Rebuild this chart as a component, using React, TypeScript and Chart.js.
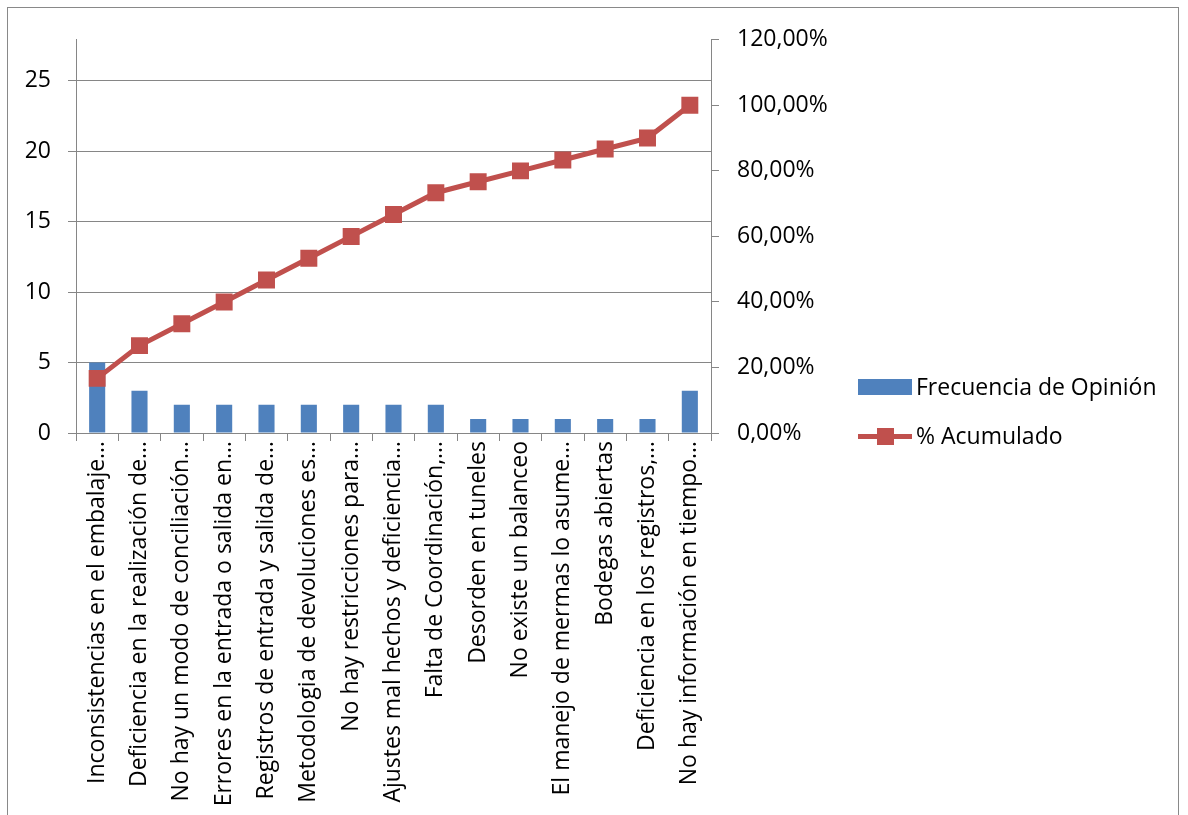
import React, { useEffect, useRef } from "react";
import { Chart, registerables } from "chart.js";

Chart.register(...registerables);

const categories: string[] = [
  "Inconsistencias en el embalaje…",
  "Deficiencia en la realización de…",
  "No hay un modo de conciliación…",
  "Errores en la entrada o salida en…",
  "Registros de entrada y salida de…",
  "Metodologia de devoluciones es…",
  "No hay restricciones para…",
  "Ajustes mal hechos y deficiencia…",
  "Falta de Coordinación,…",
  "Desorden en tuneles",
  "No existe un balanceo",
  "El manejo de mermas lo asume…",
  "Bodegas abiertas",
  "Deficiencia en los registros,…",
  "No hay información en tiempo…",
];

const frecuencia: number[] = [5, 3, 2, 2, 2, 2, 2, 2, 2, 1, 1, 1, 1, 1, 3];
const acumulado: number[] = [
  0.1667, 0.2667, 0.3333, 0.4, 0.4667, 0.5333, 0.6, 0.6667, 0.7333, 0.7667,
  0.8, 0.8333, 0.8667, 0.9, 1.0,
];

const seriesNames: string[] = ["Frecuencia de Opinión", "% Acumulado"];
const leftTicks: number[] = [0, 5, 10, 15, 20, 25];

const FONT = "'Open Sans'";
const FS_X = 23;
const FS_Y = 23;
const FS_L = 23;
const BAR = "#4F81BD";
const LINE = "#C0504D";
const GRID = "#868686";

export default function App() {
  const ref = useRef<HTMLCanvasElement | null>(null);

  useEffect(() => {
    if (!ref.current) return;
    const chart = new Chart(ref.current, {
      type: "bar",
      data: {
        labels: categories,
        datasets: [
          {
            type: "line",
            label: seriesNames[1],
            data: acumulado,
            yAxisID: "y1",
            borderColor: LINE,
            backgroundColor: LINE,
            borderWidth: 5,
            pointStyle: "rect",
            pointRadius: 12,
            pointBorderWidth: 0,
            tension: 0,
            order: 0,
          } as any,
          {
            type: "bar",
            label: seriesNames[0],
            data: frecuencia,
            yAxisID: "y",
            backgroundColor: BAR,
            categoryPercentage: 1,
            barPercentage: 0.38,
            order: 1,
          } as any,
        ],
      },
      options: {
        animation: false,
        responsive: false,
        maintainAspectRatio: false,
        layout: { padding: { top: 29, left: 0, right: 0, bottom: 0 } },
        plugins: { legend: { display: false }, tooltip: { enabled: false } },
        scales: {
          x: {
            grid: {
              offset: true,
              drawOnChartArea: false,
              drawTicks: true,
              tickLength: 8,
              color: GRID,
            },
            border: { display: true, color: GRID, width: 1 },
            ticks: {
              autoSkip: false,
              maxRotation: 90,
              minRotation: 90,
              padding: 0,
              color: "#000",
              font: { family: FONT, size: FS_X },
            },
            afterFit: (s: any) => {
              s.height = 383;
            },
          },
          y: {
            position: "left",
            min: 0,
            max: 27.9,
            afterBuildTicks: (s: any) => {
              s.ticks = leftTicks.map((v) => ({ value: v }));
            },
            grid: {
              color: GRID,
              tickLength: 8,
              drawTicks: true,
            },
            border: { display: true, color: GRID, width: 1 },
            ticks: {
              padding: 17,
              color: "#000",
              font: { family: FONT, size: FS_Y },
              callback: (v: any) => String(v),
            },
            afterFit: (s: any) => {
              s.width = 68;
            },
          },
          y1: {
            position: "right",
            min: 0,
            max: 1.2,
            ticks: {
              stepSize: 0.2,
              padding: 18,
              color: "#000",
              font: { family: FONT, size: FS_Y },
              callback: (v: any) =>
                (Number(v) * 100).toFixed(2).replace(".", ",") + "%",
            },
            grid: {
              drawOnChartArea: false,
              drawTicks: true,
              tickLength: 8,
              color: GRID,
            },
            border: { display: true, color: GRID, width: 1 },
            afterFit: (s: any) => {
              s.width = 467;
            },
          },
        },
      },
    });
    return () => chart.destroy();
  }, []);

  const textStyle: React.CSSProperties = {
    position: "absolute",
    fontFamily: FONT,
    fontSize: FS_L,
    color: "#000",
    lineHeight: "1",
    whiteSpace: "nowrap",
  };

  return (
    <div
      style={{
        position: "absolute",
        left: 7,
        top: 7,
        width: 1170,
        height: 830,
        border: "1px solid #898989",
        background: "#fff",
      }}
    >
      <canvas
        ref={ref}
        width={1170}
        height={808}
        style={{ position: "absolute", left: 0, top: 0, width: 1170, height: 808 }}
      />
      <div
        style={{
          position: "absolute",
          left: 850,
          top: 371,
          width: 54,
          height: 16,
          background: BAR,
        }}
      />
      <div style={{ ...textStyle, left: 908, top: 379 - FS_L / 2 - 1 }}>{seriesNames[0]}</div>
      <div
        style={{
          position: "absolute",
          left: 850,
          top: 426,
          width: 54,
          height: 5,
          background: LINE,
        }}
      />
      <div
        style={{
          position: "absolute",
          left: 869,
          top: 420,
          width: 17,
          height: 17,
          background: LINE,
        }}
      />
      <div style={{ ...textStyle, left: 908, top: 428 - FS_L / 2 - 1 }}>{seriesNames[1]}</div>
    </div>
  );
}
